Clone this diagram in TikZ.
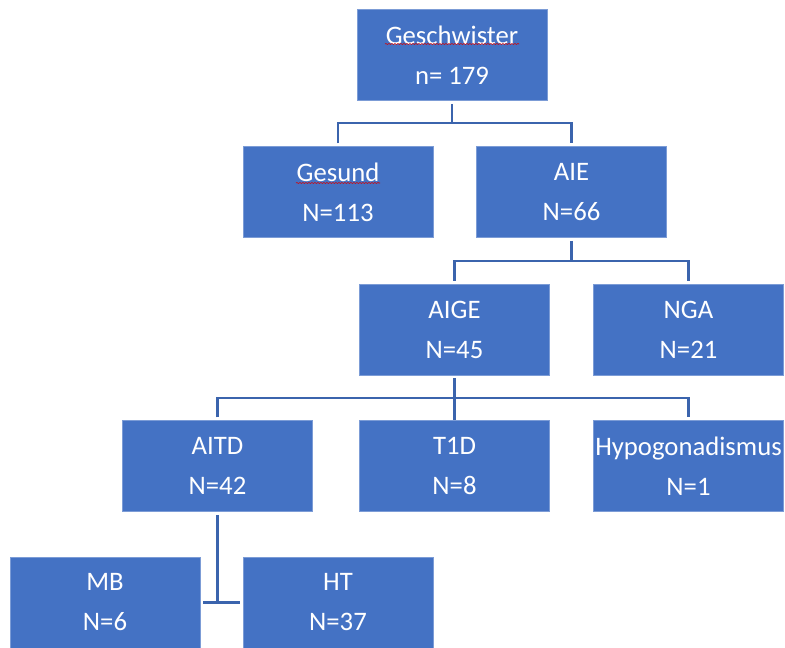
\documentclass[tikz,border=0pt]{standalone}
\usepackage{fontspec}
\setmainfont{Carlito}
\usetikzlibrary{calc,decorations.pathmorphing}
\definecolor{boxblue}{HTML}{4472C4}
\definecolor{lineblue}{HTML}{3B64AD}
\begin{document}
\begin{tikzpicture}[x=1pt,y=-1pt,
  box/.style={fill=boxblue,draw=boxblue!70!white,line width=0.5pt,minimum width=190pt,minimum height=91pt,
    inner sep=0pt,align=center,text=white,font=\fontsize{26.7}{40}\selectfont},
  link/.style={draw=lineblue,line width=2.2pt,shorten >=3pt,shorten <=3pt},
  spellwave/.style={draw=red!85!black,line width=0.6pt,decorate,decoration={snake,amplitude=0.5pt,segment length=3pt}}]
  \useasboundingbox (0,0) rectangle (785,648);
  \node[box] (gesch) at (452,55) {Geschwister\\n= 179};
  \node[box] (gesund) at (338,192) {Gesund\\N=113};
  \node[box] (aie) at (571.5,192) {AIE\\N=66};
  \node[box] (aige) at (454.5,329.5) {AIGE\\N=45};
  \node[box] (nga) at (688.5,329.5) {NGA\\N=21};
  \node[box] (aitd) at (217.5,466) {AITD\\N=42};
  \node[box] (tid) at (454.5,466) {T1D\\N=8};
  \node[box] (hypo) at (688.5,466) {Hypogonadismus\\N=1};
  \node[box] (mb) at (105,602.5) {MB\\N=6};
  \node[box] (ht) at (338,602.5) {HT\\N=37};
  % spell check marks
  \draw[spellwave] ($(gesch.center)+(-67,-11)$) -- ($(gesch.center)+(67,-11)$);
  \draw[spellwave] ($(gesund.center)+(-42,-9)$) -- ($(gesund.center)+(42,-9)$);
  % connectors
  \coordinate (bus1) at ([yshift=-22pt]gesch.south);
  \coordinate (bus2) at ([yshift=-23pt]aie.south);
  \coordinate (bus3) at ([yshift=-23pt]aige.south);
  \draw[link,shorten >=0pt] (gesch.south) -- (bus1);
  \draw[link] (gesund.north) |- (bus1) -| (aie.north);
  \draw[link,shorten >=0pt] (aie.south) -- (bus2);
  \draw[link] (aige.north) |- (bus2) -| (nga.north);
  \draw[link,shorten >=0pt] (aige.south) -- (tid.north);
  \draw[link] (aitd.north) |- (bus3) -| (hypo.north);
  \draw[link,shorten >=0pt] (aitd.south) -- (aitd.south |- mb.east);
  \draw[link] (mb.east) -- (ht.west);
\end{tikzpicture}
\end{document}
